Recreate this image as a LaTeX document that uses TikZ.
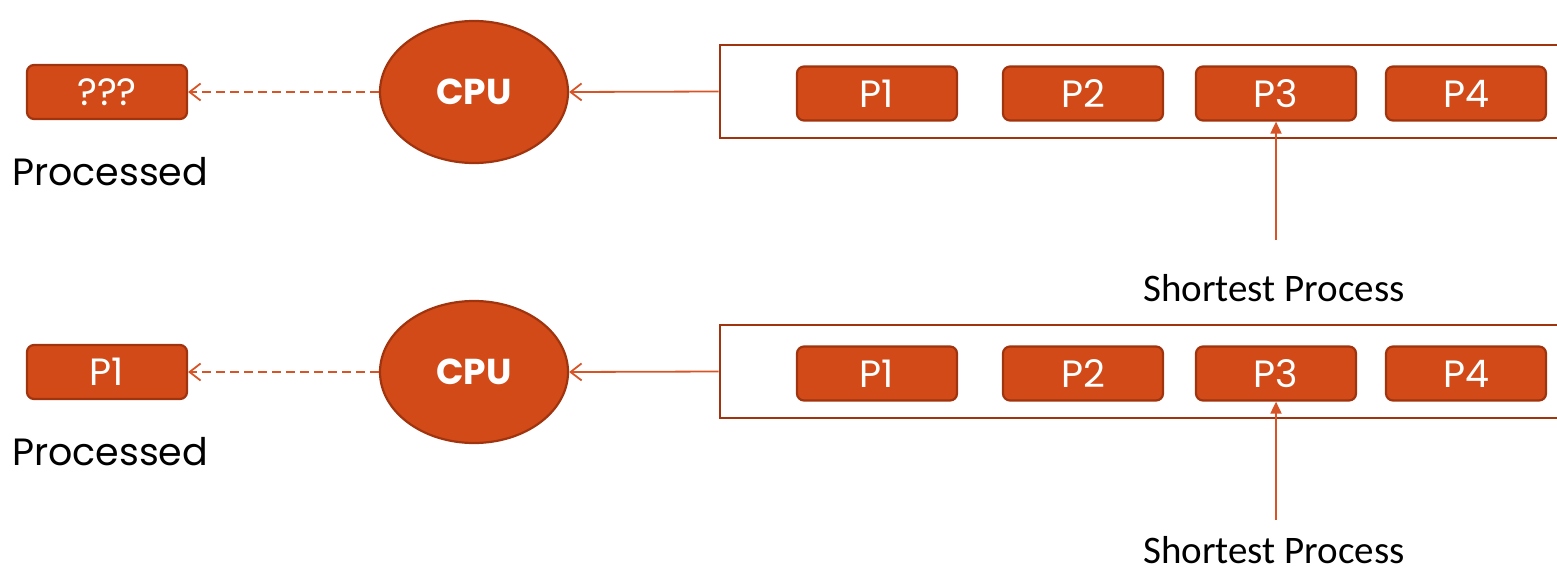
\documentclass[tikz,border=0pt]{standalone}
\usepackage{fontspec}
\setmainfont{Poppins}
\newfontfamily\calib{Carlito}
\usetikzlibrary{arrows.meta,shapes.geometric}
\definecolor{fillc}{RGB}{209,74,24}
\definecolor{edgec}{RGB}{160,52,14}
\definecolor{arrc}{RGB}{214,84,38}
\tikzset{
  pbox/.style={draw=edgec, line width=2.2pt, fill=fillc, rounded corners=7pt,
    minimum width=160pt, minimum height=54pt, inner sep=0pt, text=white,
    font=\fontsize{38}{40}\selectfont},
  cpunode/.style={ellipse, draw=edgec, line width=2.2pt, fill=fillc,
    minimum width=188pt, minimum height=142pt, inner sep=0pt, text=white,
    font=\fontsize{36}{38}\selectfont\bfseries},
  queue/.style={draw=edgec, line width=2.8pt, minimum width=860pt,
    minimum height=93pt, inner sep=0pt},
  lbl/.style={font=\fontsize{38}{40}\selectfont, text=black, inner sep=0pt},
  slbl/.style={font=\calib\fontsize{39}{40}\selectfont, text=black, inner sep=0pt, text depth=0pt},
  solidarr/.style={draw=arrc, line width=1.8pt, -{Straight Barb[length=11pt,width=17pt,line width=1.8pt]}},
  dasharr/.style={draw=arrc, line width=1.8pt, dash pattern=on 9pt off 5pt,
    -{Straight Barb[length=11pt,width=17pt,line width=1.8pt]}},
  uparr/.style={draw=arrc, line width=1.8pt, -{Triangle[length=12pt,width=11pt]}},
}
\begin{document}
\begin{tikzpicture}[x=1pt,y=-1pt]
\useasboundingbox (0,0) rectangle (1557,570);
\foreach \r/\t/\sb [count=\i] in {0/{???}/301,280/P1/283}{
  \begin{scope}[yshift=-\r pt]
    \node[queue] (q\i) at (1150,91.5) {};
    \node[pbox] (out\i) at (107,92) {\t};
    \node[lbl, anchor=base west] (proc\i) at (12,185) {Processed};
    \node[cpunode] (cpu\i) at (474,92) {CPU};
    \node[pbox] (a\i) at (877,93.5) {P1};
    \node[pbox] (b\i) at (1083,93.5) {P2};
    \node[pbox] (c\i) at (1276,93.5) {P3};
    \node[pbox] (d\i) at (1466,93.5) {P4};
    \coordinate (tail\i) at (1276,240);
    \node[slbl, anchor=base] (short\i) at (1274,\sb) {Shortest Process};
    \draw[solidarr] (q\i.west) -- (cpu\i.east);
    \draw[dasharr] (cpu\i.west) -- (out\i.east);
    \draw[uparr] (tail\i) -- (c\i.south);
  \end{scope}
}
\end{tikzpicture}
\end{document}
